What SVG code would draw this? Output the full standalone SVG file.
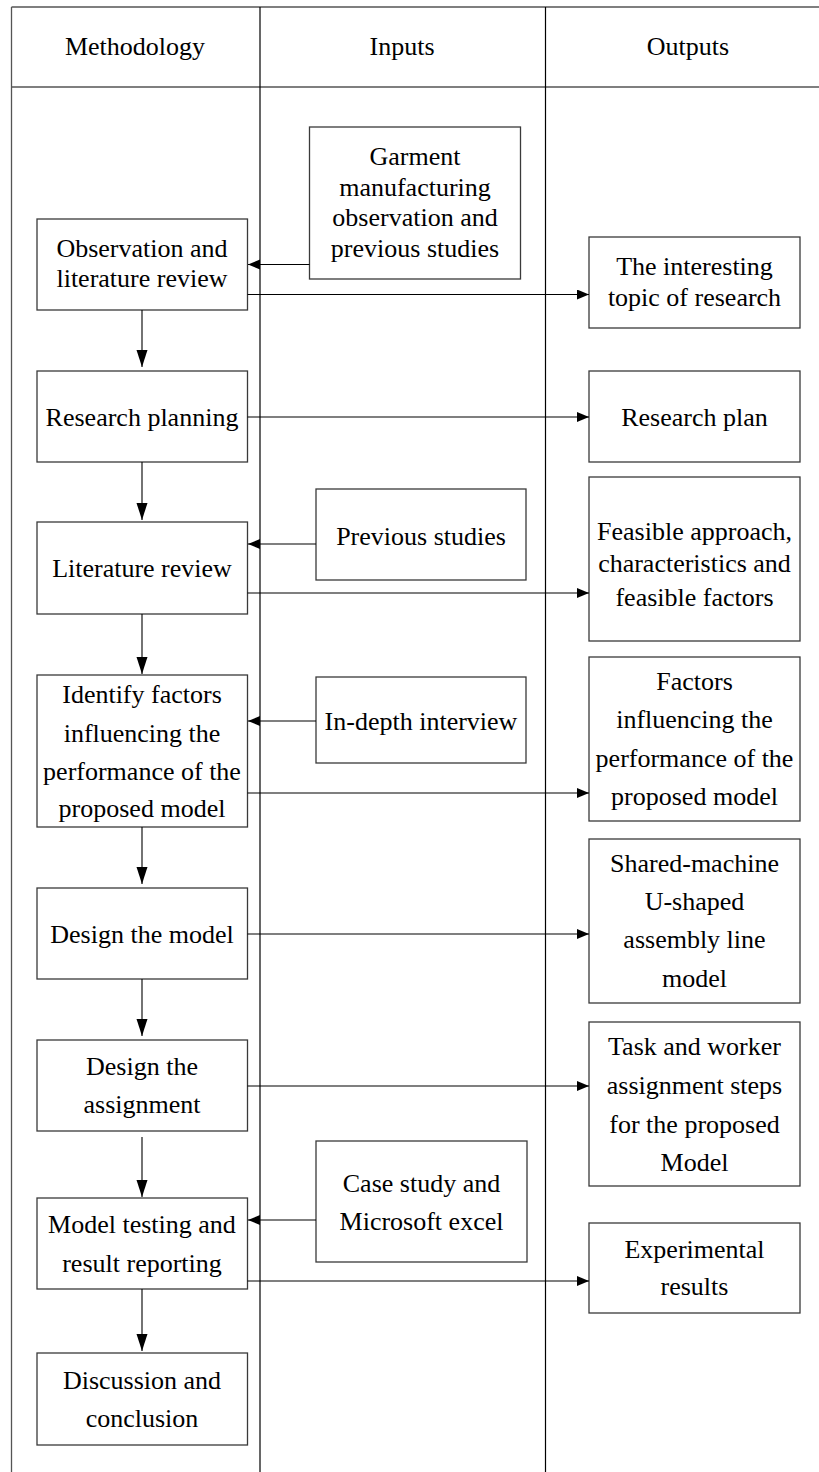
<svg xmlns="http://www.w3.org/2000/svg" width="819" height="1472" viewBox="0 0 819 1472">
  <style>
    .box { fill: #ffffff; stroke: #3a3a3a; stroke-width: 1.3; }
    .grid { stroke: #000000; stroke-width: 1.2; fill: none; }
    .frame { stroke: #555555; stroke-width: 1.3; fill: none; }
    .link { stroke: #000000; stroke-width: 1.1; fill: none; }
    .v { marker-end: url(#arrowV); }
    .h { marker-end: url(#arrowH); }
    .serif { font-family: "Liberation Serif", serif; font-size: 26px; fill: #000000; text-anchor: middle; }
  </style>
  <defs>
    <marker id="arrowV" markerUnits="userSpaceOnUse" markerWidth="18" markerHeight="12" refX="17" refY="5.5" orient="auto">
      <path d="M0,0 L17,5.5 L0,11 z" fill="#000000"/>
    </marker>
    <marker id="arrowH" markerUnits="userSpaceOnUse" markerWidth="13" markerHeight="11" refX="12" refY="5" orient="auto">
      <path d="M0,0 L12,5 L0,10 z" fill="#000000"/>
    </marker>
  </defs>

  <rect width="819" height="1472" fill="#ffffff"/>

  <!-- swimlane table -->
  <g id="table" class="serif">
    <line class="frame" x1="11.5" y1="7" x2="819" y2="7"/>
    <line class="frame" x1="11.5" y1="87" x2="819" y2="87"/>
    <line class="frame" x1="11.5" y1="7" x2="11.5" y2="1472"/>
    <line class="grid" x1="260" y1="7" x2="260" y2="1472"/>
    <line class="grid" x1="545.5" y1="7" x2="545.5" y2="1472"/>
    <text x="135" y="55">Methodology</text>
    <text x="402" y="55">Inputs</text>
    <text x="688" y="55">Outputs</text>
  </g>

  <!-- methodology column -->
  <g id="observation" class="serif">
    <rect class="box" x="37" y="219" width="210.5" height="91"/>
    <text x="142" y="257">Observation and</text>
    <text x="142" y="287">literature review</text>
  </g>
  <g id="research-planning" class="serif">
    <rect class="box" x="37" y="371" width="210.5" height="91"/>
    <text x="142" y="426">Research planning</text>
  </g>
  <g id="literature-review" class="serif">
    <rect class="box" x="37" y="522" width="210.5" height="92"/>
    <text x="142" y="577">Literature review</text>
  </g>
  <g id="identify-factors" class="serif">
    <rect class="box" x="37" y="675" width="210.5" height="152"/>
    <text x="142" y="703">Identify factors</text>
    <text x="142" y="741.5">influencing the</text>
    <text x="142" y="780">performance of the</text>
    <text x="142" y="817">proposed model</text>
  </g>
  <g id="design-model" class="serif">
    <rect class="box" x="37" y="888" width="210.5" height="91"/>
    <text x="142" y="943">Design the model</text>
  </g>
  <g id="design-assignment" class="serif">
    <rect class="box" x="37" y="1040" width="210.5" height="91"/>
    <text x="142" y="1075">Design the</text>
    <text x="142" y="1113">assignment</text>
  </g>
  <g id="model-testing" class="serif">
    <rect class="box" x="37" y="1198" width="210.5" height="91"/>
    <text x="142" y="1233">Model testing and</text>
    <text x="142" y="1272">result reporting</text>
  </g>
  <g id="discussion" class="serif">
    <rect class="box" x="37" y="1353" width="210.5" height="92"/>
    <text x="142" y="1389">Discussion and</text>
    <text x="142" y="1427">conclusion</text>
  </g>

  <!-- inputs column -->
  <g id="garment-input" class="serif">
    <rect class="box" x="309.5" y="127" width="211" height="152"/>
    <text x="415" y="165">Garment</text>
    <text x="415" y="195.5">manufacturing</text>
    <text x="415" y="226">observation and</text>
    <text x="415" y="256.5">previous studies</text>
  </g>
  <g id="previous-studies" class="serif">
    <rect class="box" x="316" y="489" width="210" height="91"/>
    <text x="421" y="545">Previous studies</text>
  </g>
  <g id="interview" class="serif">
    <rect class="box" x="316" y="677" width="210" height="86"/>
    <text x="421" y="730">In-depth interview</text>
  </g>
  <g id="case-study" class="serif">
    <rect class="box" x="316" y="1141" width="211" height="121"/>
    <text x="421.5" y="1192">Case study and</text>
    <text x="421.5" y="1230">Microsoft excel</text>
  </g>

  <!-- outputs column -->
  <g id="topic-output" class="serif">
    <rect class="box" x="589" y="237" width="211" height="91"/>
    <text x="694.5" y="275">The interesting</text>
    <text x="694.5" y="306">topic of research</text>
  </g>
  <g id="plan-output" class="serif">
    <rect class="box" x="589" y="371" width="211" height="91"/>
    <text x="694.5" y="426">Research plan</text>
  </g>
  <g id="feasible-output" class="serif">
    <rect class="box" x="589" y="477" width="211" height="164"/>
    <text x="694.5" y="540">Feasible approach,</text>
    <text x="694.5" y="572">characteristics and</text>
    <text x="694.5" y="606">feasible factors</text>
  </g>
  <g id="factors-output" class="serif">
    <rect class="box" x="589" y="657" width="211" height="164"/>
    <text x="694.5" y="690">Factors</text>
    <text x="694.5" y="728">influencing the</text>
    <text x="694.5" y="767">performance of the</text>
    <text x="694.5" y="805">proposed model</text>
  </g>
  <g id="model-output" class="serif">
    <rect class="box" x="589" y="839" width="211" height="164"/>
    <text x="694.5" y="872">Shared-machine</text>
    <text x="694.5" y="910">U-shaped</text>
    <text x="694.5" y="948">assembly line</text>
    <text x="694.5" y="987">model</text>
  </g>
  <g id="assignment-output" class="serif">
    <rect class="box" x="589" y="1022" width="211" height="164"/>
    <text x="694.5" y="1055">Task and worker</text>
    <text x="694.5" y="1094">assignment steps</text>
    <text x="694.5" y="1133">for the proposed</text>
    <text x="694.5" y="1171">Model</text>
  </g>
  <g id="results-output" class="serif">
    <rect class="box" x="589" y="1223" width="211" height="90"/>
    <text x="694.5" y="1258">Experimental</text>
    <text x="694.5" y="1295">results</text>
  </g>

  <!-- connectors -->
  <g id="connectors">
    <line class="link v" x1="142" y1="310" x2="142" y2="367"/>
    <line class="link v" x1="142" y1="462" x2="142" y2="520"/>
    <line class="link v" x1="142" y1="614" x2="142" y2="674"/>
    <line class="link v" x1="142" y1="827" x2="142" y2="884"/>
    <line class="link v" x1="142" y1="979" x2="142" y2="1036"/>
    <line class="link v" x1="142" y1="1137" x2="142" y2="1197"/>
    <line class="link v" x1="142" y1="1289" x2="142" y2="1351"/>

    <line class="link h" x1="309.5" y1="264.5" x2="248" y2="264.5"/>
    <line class="link h" x1="316" y1="544" x2="248" y2="544"/>
    <line class="link h" x1="316" y1="721" x2="248" y2="721"/>
    <line class="link h" x1="316" y1="1220" x2="248" y2="1220"/>

    <line class="link h" x1="247.5" y1="294.5" x2="589" y2="294.5"/>
    <line class="link h" x1="247.5" y1="417" x2="589" y2="417"/>
    <line class="link h" x1="247.5" y1="593" x2="589" y2="593"/>
    <line class="link h" x1="247.5" y1="793" x2="589" y2="793"/>
    <line class="link h" x1="247.5" y1="934" x2="589" y2="934"/>
    <line class="link h" x1="247.5" y1="1086" x2="589" y2="1086"/>
    <line class="link h" x1="247.5" y1="1281" x2="589" y2="1281"/>
  </g>
</svg>
